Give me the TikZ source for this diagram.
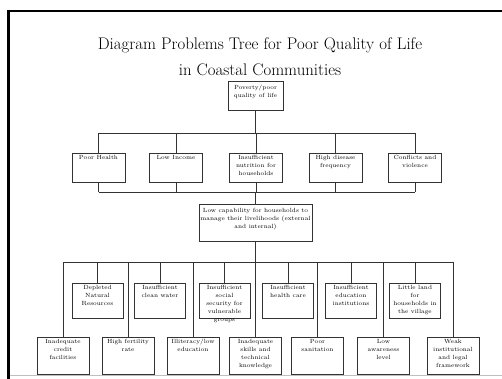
\documentclass[tikz,border=0pt]{standalone}
\usepackage{tikz}
\usetikzlibrary{positioning}
\tikzstyle{prob} = [rectangle, draw=black!80, line width=0.8pt, fill=white, inner sep=0pt]
\tikzstyle{lvl2} = [prob, minimum width=53pt, minimum height=29pt]
\tikzstyle{root} = [lvl2, minimum width=55pt]
\tikzstyle{cause} = [prob, minimum width=51pt, minimum height=35pt]
\tikzstyle{rootcause} = [prob, minimum width=52pt, minimum height=37pt]
\tikzstyle{txt} = [anchor=north, align=center, inner sep=2.5pt, font=\fontsize{6}{8}\selectfont]
\tikzstyle{link} = [draw=black!80, line width=0.8pt]

\begin{document}
\begin{tikzpicture}[x=1pt, y=-1pt]
\useasboundingbox (0,0) rectangle (502,379);
% frame
\draw [line width=3pt] (8.5,10) -- (8.5,379);
\draw [line width=2pt] (7,11) -- (502,11);
\draw [black!25, line width=0.6pt] (10,375) -- (502,375);
% title
\node (title1) at (260,45) {\fontsize{16.8}{20}\selectfont Diagram Problems Tree for Poor Quality of Life};
\node (title2) at (260,70) {\fontsize{16.8}{20}\selectfont in Coastal Communities};

% core problem
\node (top) [root, label={[txt, yshift=-2pt]north:Poverty/poor\\quality of life}] at (255.5,95.5) {};

% effects
\coordinate (bar1l) at (98.5,133);
\coordinate (bar1r) at (415,133);
\coordinate (bar2l) at (98.5,192);
\coordinate (bar2r) at (415,192);
\node (health) [lvl2, label={[txt]north:Poor Health}] at (98.5,167.5) {};
\node (income) [lvl2, label={[txt]north:Low Income}] at (176,167.5) {};
\node (nutri) [lvl2, label={[txt]north:Insufficient\\nutrition for\\households}] at (256,167.5) {};
\node (disease) [lvl2, label={[txt]north:High disease\\frequency}] at (335.5,167.5) {};
\node (conflict) [lvl2, label={[txt]north:Conflicts and\\violence}] at (415,167.5) {};

% middle
\node (capab) [prob, minimum width=113pt, minimum height=37pt, label={[txt, yshift=-2pt]north:Low capability for households to\\manage their livelihoods (external\\and internal)}] at (255.5,222.5) {};
\coordinate (bar3l) at (63,262);
\coordinate (bar3r) at (453,262);

% causes, upper row
\node (natres) [cause, label={[txt]north:Depleted\\Natural\\Resources}] at (97.5,300.5) {};
\node (water) [cause, label={[txt]north:Insufficient\\clean water}] at (160,300.5) {};
\node (social) [cause, label={[txt]north:Insufficient\\social\\security for\\vulnerable\\groups}] at (224.5,300.5) {};
\node (care) [cause, label={[txt]north:Insufficient\\health care}] at (288,300.5) {};
\node (school) [cause, label={[txt]north:Insufficient\\education\\institutions}] at (351,300.5) {};
\node (land) [cause, label={[txt]north:Little land\\for\\households in\\the village}] at (415,300.5) {};

% causes, lower row
\node (credit) [rootcause, label={[txt]north:Inadequate\\credit\\facilities}] at (63,355.5) {};
\node (fert) [rootcause, label={[txt]north:High fertility\\rate}] at (128,355.5) {};
\node (illit) [rootcause, label={[txt]north:Illiteracy/low\\education}] at (193,355.5) {};
\node (skills) [rootcause, label={[txt]north:Inadequate\\skills and\\technical\\knowledge}] at (255.5,355.5) {};
\node (sanit) [rootcause, label={[txt]north:Poor\\sanitation}] at (317.5,355.5) {};
\node (aware) [rootcause, label={[txt]north:Low\\awareness\\level}] at (383.5,355.5) {};
\node (legal) [rootcause, label={[txt]north:Weak\\institutional\\and legal\\framework}] at (453,355.5) {};

% connectors
\draw [link] (bar1l) -- (bar1r);
\draw [link] (bar2l) -- (bar2r);
\draw [link] (bar3l) -- (bar3r);
\draw [link] (top.south) -- (top.south |- bar1l);
\foreach \n in {health, income, nutri, disease, conflict} {
  \draw [link] (\n.north) -- (\n.north |- bar1l);
  \draw [link] (\n.south) -- (\n.south |- bar2l);
}
\draw [link] (capab.north) -- (capab.north |- bar2l);
\draw [link] (capab.south) -- (capab.south |- bar3l);
\foreach \n in {natres, water, social, care, school, land} {
  \draw [link] (\n.north) -- (\n.north |- bar3l);
}
\foreach \n in {credit, fert, illit, skills, sanit, aware, legal} {
  \draw [link] (\n.north) -- (\n.north |- bar3l);
}
\end{tikzpicture}
\end{document}
